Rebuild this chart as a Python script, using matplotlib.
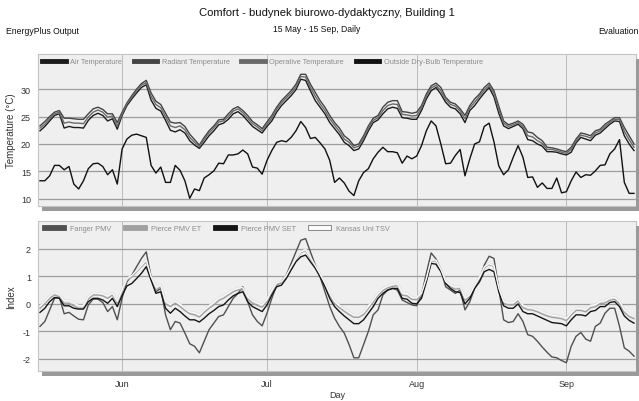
import matplotlib
matplotlib.use("Agg")
import matplotlib.pyplot as plt
import matplotlib.dates as mdates
from matplotlib.lines import Line2D
from matplotlib.patches import Patch, Rectangle
import pandas as pd

plt.rcParams["font.family"] = ["Liberation Sans Narrow", "Liberation Sans", "DejaVu Sans"]

# daily values, 15 May - 15 Sep
days = pd.date_range("2023-05-15", "2023-09-15", freq="D")

air_t = [22.4, 23.2, 24.2, 25.2, 25.5, 22.9, 23.2, 23.0, 23.0, 22.9,
         24.3, 25.2, 25.6, 25.2, 24.2, 24.6, 22.7, 25.2, 27.0, 28.2,
         29.3, 30.3, 30.8, 28.0, 26.5, 26.0, 24.3, 22.5, 22.2, 22.6,
         22.0, 20.6, 19.8, 19.2, 20.3, 21.5, 22.4, 23.5, 23.8, 24.5,
         25.5, 25.9, 25.2, 24.2, 23.2, 22.6, 22.0, 23.2, 24.2, 25.8,
         27.0, 27.9, 28.8, 29.9, 31.8, 31.6, 29.7, 27.9, 26.7, 25.5,
         23.9, 22.8, 21.7, 20.3, 19.7, 18.8, 19.1, 20.6, 22.4, 23.9,
         24.4, 25.5, 26.4, 26.7, 26.5, 24.8, 24.7, 24.5, 24.5, 26.1,
         28.2, 29.7, 30.3, 29.1, 27.6, 26.7, 26.4, 25.5, 23.9, 26.1,
         27.0, 28.2, 29.3, 30.3, 28.6, 25.6, 23.3, 22.8, 23.2, 23.6,
         22.8, 20.8, 20.6, 20.0, 19.6, 18.6, 18.6, 18.5, 18.2, 18.0,
         18.5, 20.2, 21.2, 20.9, 20.6, 21.6, 22.0, 22.8, 23.6, 24.2,
         24.1, 21.5, 20.0, 18.8]
radiant_t = [23.3, 24.1, 25.0, 25.8, 26.1, 24.7, 24.7, 24.6, 24.5, 24.5,
             25.5, 26.4, 26.7, 26.3, 25.5, 25.5, 23.9, 25.8, 27.5, 28.8,
             30.0, 31.0, 31.6, 29.3, 27.8, 27.2, 25.6, 24.0, 23.8, 23.9,
             23.2, 21.8, 20.8, 19.8, 21.2, 22.4, 23.3, 24.4, 24.5, 25.5,
             26.4, 26.8, 26.1, 25.2, 24.1, 23.5, 22.8, 24.0, 25.2, 26.7,
             27.9, 28.8, 29.7, 30.9, 32.7, 32.7, 30.9, 29.4, 27.9, 26.7,
             25.2, 23.9, 22.9, 21.5, 20.8, 19.7, 20.0, 21.5, 23.3, 24.7,
             25.2, 26.7, 27.6, 27.9, 27.9, 25.9, 25.8, 25.6, 25.8, 27.0,
             29.1, 30.6, 31.1, 30.3, 28.5, 27.6, 27.3, 26.4, 25.2, 27.0,
             28.2, 29.1, 30.3, 31.1, 29.7, 26.9, 24.2, 23.5, 23.8, 24.2,
             23.6, 22.2, 22.0, 21.2, 20.6, 19.4, 19.3, 19.1, 18.8, 18.6,
             19.4, 20.9, 22.0, 21.8, 21.5, 22.4, 22.7, 23.6, 24.2, 24.8,
             24.8, 23.0, 21.5, 20.0]
operative_t = [22.9, 23.6, 24.6, 25.5, 25.8, 23.8, 24.0, 23.8, 23.8, 23.7,
               24.9, 25.8, 26.2, 25.8, 24.9, 25.1, 23.3, 25.5, 27.3, 28.5,
               29.7, 30.7, 31.2, 28.7, 27.2, 26.6, 25.0, 23.3, 23.0, 23.3,
               22.6, 21.2, 20.3, 19.5, 20.8, 22.0, 22.9, 24.0, 24.2, 25.0,
               26.0, 26.4, 25.7, 24.7, 23.7, 23.1, 22.4, 23.6, 24.7, 26.3,
               27.5, 28.4, 29.3, 30.4, 32.3, 32.2, 30.3, 28.7, 27.3, 26.1,
               24.6, 23.4, 22.3, 20.9, 20.3, 19.3, 19.6, 21.1, 22.9, 24.3,
               24.8, 26.1, 27.0, 27.3, 27.2, 25.4, 25.3, 25.1, 25.2, 26.6,
               28.7, 30.2, 30.7, 29.7, 28.1, 27.2, 26.9, 26.0, 24.6, 26.6,
               27.6, 28.7, 29.8, 30.7, 29.2, 26.3, 23.8, 23.2, 23.5, 23.9,
               23.2, 21.5, 21.3, 20.6, 20.1, 19.0, 19.0, 18.8, 18.5, 18.3,
               19.0, 20.6, 21.6, 21.4, 21.1, 22.0, 22.4, 23.2, 23.9, 24.5,
               24.5, 22.3, 20.8, 19.4]
outside_t = [13.3, 13.3, 14.2, 16.1, 16.1, 15.3, 15.9, 12.7, 11.8, 13.3,
             15.5, 16.4, 16.5, 15.9, 14.4, 15.3, 12.7, 19.1, 20.9, 21.6,
             21.8, 21.5, 21.2, 16.1, 14.7, 15.8, 13.0, 13.0, 16.1, 15.2,
             13.3, 10.1, 11.8, 11.5, 13.8, 14.4, 15.1, 16.5, 16.4, 18.0,
             18.0, 18.2, 18.9, 18.2, 15.8, 15.6, 14.5, 17.0, 18.8, 20.3,
             20.6, 20.4, 21.2, 22.4, 24.1, 23.0, 21.0, 21.2, 20.2, 19.1,
             17.0, 13.0, 13.8, 12.9, 11.4, 10.6, 13.3, 14.8, 15.5, 17.3,
             18.5, 19.4, 18.6, 18.6, 18.4, 16.5, 17.8, 17.3, 17.8, 19.7,
             22.4, 24.2, 23.3, 20.0, 16.4, 16.5, 17.9, 19.0, 14.2, 17.3,
             20.0, 20.4, 23.2, 23.8, 20.4, 16.0, 14.4, 15.3, 17.6, 19.7,
             17.6, 13.9, 14.0, 12.1, 12.9, 11.9, 11.9, 13.8, 11.1, 11.3,
             13.3, 14.9, 13.9, 14.4, 14.3, 15.1, 16.1, 16.2, 18.2, 19.1,
             20.8, 13.0, 11.0, 11.0]

fanger_pmv = [-0.83, -0.65, -0.23, 0.19, 0.25, -0.37, -0.32, -0.45, -0.57, -0.59,
              -0.05, 0.16, 0.16, 0.04, -0.29, -0.11, -0.59, 0.2, 0.79, 1.03,
              1.34, 1.64, 1.88, 0.97, 0.43, 0.55, -0.41, -0.95, -0.65, -0.71,
              -1.07, -1.46, -1.55, -1.79, -1.37, -0.95, -0.71, -0.47, -0.41, -0.11,
              0.19, 0.37, 0.61, 0.07, -0.41, -0.65, -0.81, -0.35, 0.19, 0.67,
              0.79, 1.03, 1.46, 1.88, 2.3, 2.36, 1.88, 1.4, 0.97, 0.43,
              -0.11, -0.53, -0.83, -1.07, -1.49, -1.97, -1.97, -1.49, -1.01, -0.41,
              -0.23, 0.31, 0.49, 0.55, 0.49, 0.13, 0.04, -0.05, -0.08, 0.31,
              1.1, 1.84, 1.62, 1.22, 0.61, 0.49, 0.37, 0.49, -0.23, 0.07,
              0.55, 0.85, 1.4, 1.72, 1.64, 0.55, -0.59, -0.69, -0.65, -0.37,
              -0.65, -1.13, -1.19, -1.37, -1.58, -1.77, -1.94, -1.97, -2.07, -2.15,
              -1.55, -1.19, -1.05, -1.29, -1.37, -0.83, -0.71, -0.35, -0.17, -0.17,
              -0.83, -1.61, -1.73, -1.91]
pierce_et = [-0.17, 0.0, 0.19, 0.31, 0.25, 0.01, 0.01, -0.08, -0.17, -0.17,
             0.16, 0.31, 0.31, 0.28, 0.19, 0.31, 0.01, 0.43, 0.85, 0.97,
             1.16, 1.34, 1.52, 0.91, 0.49, 0.61, -0.01, -0.11, 0.01, -0.11,
             -0.25, -0.37, -0.41, -0.49, -0.32, -0.17, -0.05, 0.11, 0.19, 0.31,
             0.43, 0.5, 0.5, 0.17, 0.02, -0.07, -0.13, 0.07, 0.4, 0.7,
             0.75, 0.97, 1.3, 1.6, 1.85, 1.93, 1.65, 1.35, 1.03, 0.68,
             0.3, 0.0, -0.15, -0.28, -0.4, -0.5, -0.5, -0.4, -0.18, 0.05,
             0.3, 0.47, 0.57, 0.62, 0.65, 0.3, 0.28, 0.15, 0.14, 0.3,
             0.85, 1.55, 1.55, 1.2, 0.75, 0.6, 0.52, 0.55, 0.12, 0.25,
             0.6, 0.9, 1.3, 1.42, 1.35, 0.5, 0.0, -0.05, -0.05, 0.1,
             -0.15, -0.22, -0.24, -0.3, -0.38, -0.45, -0.5, -0.52, -0.55, -0.62,
             -0.42, -0.25, -0.25, -0.3, -0.15, -0.12, 0.0, 0.02, 0.12, 0.15,
             0.0, -0.32, -0.47, -0.55]
pierce_set = [-0.32, -0.17, 0.07, 0.22, 0.19, -0.08, -0.08, -0.17, -0.2, -0.2,
              0.07, 0.19, 0.19, 0.13, 0.01, 0.19, -0.11, 0.3, 0.64, 0.73,
              0.91, 1.1, 1.34, 0.85, 0.37, 0.43, -0.17, -0.35, -0.17, -0.29,
              -0.45, -0.59, -0.59, -0.67, -0.53, -0.37, -0.25, -0.11, -0.05, 0.13,
              0.28, 0.37, 0.43, 0.07, -0.11, -0.2, -0.29, -0.05, 0.31, 0.61,
              0.67, 0.91, 1.22, 1.52, 1.7, 1.76, 1.52, 1.28, 0.97, 0.61,
              0.19, -0.11, -0.29, -0.45, -0.59, -0.73, -0.73, -0.59, -0.35, -0.11,
              0.19, 0.37, 0.49, 0.55, 0.55, 0.19, 0.16, 0.01, -0.01, 0.19,
              0.79, 1.46, 1.43, 1.16, 0.73, 0.55, 0.43, 0.4, -0.01, 0.19,
              0.55, 0.79, 1.16, 1.24, 1.16, 0.43, -0.08, -0.17, -0.17, -0.01,
              -0.29, -0.37, -0.37, -0.45, -0.53, -0.61, -0.69, -0.71, -0.73, -0.81,
              -0.59, -0.41, -0.41, -0.45, -0.29, -0.25, -0.11, -0.11, 0.04, 0.07,
              -0.11, -0.45, -0.61, -0.71]
kansas_tsv = [-0.1, 0.07, 0.27, 0.42, 0.33, 0.1, 0.12, 0.02, -0.08, -0.08,
              0.25, 0.38, 0.38, 0.35, 0.27, 0.38, 0.08, 0.5, 0.9, 1.02,
              1.2, 1.38, 1.58, 0.98, 0.6, 0.67, 0.07, -0.03, 0.1, -0.03,
              -0.17, -0.3, -0.33, -0.41, -0.24, -0.09, 0.04, 0.2, 0.28, 0.38,
              0.5, 0.56, 0.58, 0.25, 0.1, 0.02, -0.05, 0.15, 0.47, 0.75,
              0.8, 1.02, 1.34, 1.63, 1.88, 1.96, 1.68, 1.38, 1.07, 0.74,
              0.37, 0.08, -0.07, -0.2, -0.32, -0.42, -0.42, -0.32, -0.1, 0.13,
              0.37, 0.54, 0.64, 0.7, 0.72, 0.38, 0.36, 0.23, 0.22, 0.37,
              0.9, 1.58, 1.58, 1.25, 0.8, 0.67, 0.6, 0.62, 0.2, 0.32,
              0.66, 0.95, 1.33, 1.45, 1.38, 0.57, 0.08, 0.03, 0.03, 0.18,
              -0.07, -0.14, -0.16, -0.22, -0.3, -0.37, -0.42, -0.44, -0.47, -0.54,
              -0.34, -0.17, -0.17, -0.22, -0.07, -0.04, 0.08, 0.1, 0.2, 0.23,
              0.08, -0.24, -0.39, -0.47]

TEMP_SERIES = [("Air Temperature", air_t, "#1c1c1c"),
               ("Radiant Temperature", radiant_t, "#444444"),
               ("Operative Temperature", operative_t, "#6a6a6a"),
               ("Outside Dry-Bulb Temperature", outside_t, "#111111")]
IDX_SERIES = [("Fanger PMV", fanger_pmv, "#505050"),
              ("Pierce PMV ET", pierce_et, "#a0a0a0"),
              ("Pierce PMV SET", pierce_set, "#151515"),
              ("Kansas Uni TSV", kansas_tsv, "#fafafa")]

BG = "#efefef"
GRID = "#9c9c9c"
TXT = "#333333"

fig = plt.figure(figsize=(6.39, 4.02), dpi=100)
ax1 = fig.add_axes([38 / 639, 1 - 207 / 402, 598 / 639, 152 / 402])
ax2 = fig.add_axes([38 / 639, 1 - 372 / 402, 598 / 639, 150 / 402])

# drop shadows under / right of the panels
for top, bot in [(55, 207), (222, 372)]:
    fig.add_artist(Rectangle((42 / 639, 1 - (bot + 4.5) / 402), 597 / 639, 4 / 402,
                             transform=fig.transFigure, color="#9a9a9a", lw=0))
    fig.add_artist(Rectangle((636 / 639, 1 - (bot + 4.5) / 402), 3 / 639, (bot - top) / 402,
                             transform=fig.transFigure, color="#9a9a9a", lw=0))

x0 = days[0] - pd.Timedelta(hours=10)
x1 = days[-1] + pd.Timedelta(hours=10)

for name, vals, c in TEMP_SERIES:
    ax1.plot(days, vals, color=c, lw=1.0, zorder=3)
for name, vals, c in IDX_SERIES:
    if name == "Kansas Uni TSV":
        ax2.plot(days, vals, color="#d4d4d4", lw=1.6, zorder=2)
    ax2.plot(days, vals, color=c, lw=1.0, zorder=3)

for ax, yl, lim, ticks in [(ax1, "Temperature (°C)", (8.7, 36.4), [10, 15, 20, 25, 30]),
                           (ax2, "Index", (-2.45, 3.0), [-2, -1, 0, 1, 2])]:
    ax.set_facecolor(BG)
    ax.set_xlim(x0, x1)
    ax.set_ylim(*lim)
    ax.set_yticks(ticks)
    ax.set_yticklabels([str(t) for t in ticks])
    ax.xaxis.set_major_locator(mdates.MonthLocator())
    ax.xaxis.set_major_formatter(mdates.DateFormatter("%b"))
    ax.grid(axis="y", color=GRID, lw=0.9, zorder=1)
    ax.grid(axis="x", color="#b4b4b4", lw=0.6, zorder=1)
    ax.set_axisbelow(True)
    ax.tick_params(length=0, labelsize=6.5, colors=TXT, pad=5)
    for s in ax.spines.values():
        s.set_color("#c4c4c4")
        s.set_linewidth(0.8)
    ax.set_ylabel(yl, fontsize=7, color=TXT)
    ax.yaxis.set_label_coords(-0.036, 0.5)

ax1.tick_params(axis="x", labelbottom=False)
ax2.tick_params(axis="x", pad=6)
ax2.set_xlabel("Day", fontsize=6.5, color=TXT, labelpad=1)

h1 = [Line2D([], [], color=c, lw=3.5) for _, _, c in TEMP_SERIES]
ax1.legend(h1, [n for n, _, _ in TEMP_SERIES], loc="upper left", ncol=4, frameon=False,
           fontsize=5.3, labelcolor="#8c8c8c", handlelength=3.2, handletextpad=0.6,
           columnspacing=1.6, borderaxespad=0.15, bbox_to_anchor=(0.0, 1.0))
h2 = [Patch(facecolor=c, edgecolor="#777777" if n == "Kansas Uni TSV" else c, lw=0.6)
      for n, _, c in IDX_SERIES]
ax2.legend(h2, [n for n, _, _ in IDX_SERIES], loc="upper left", ncol=4, frameon=False,
           fontsize=5.3, labelcolor="#8c8c8c", handlelength=3.2, handleheight=0.5,
           handletextpad=0.6, columnspacing=1.6, borderaxespad=0.15,
           bbox_to_anchor=(0.0, 1.0))

fig.text(0.512, 1 - 13 / 402, "Comfort - budynek biurowo-dydaktyczny, Building 1",
         ha="center", va="center", fontsize=8.1, color="#111111")
fig.text(0.495, 1 - 30 / 402, "15 May - 15 Sep, Daily", ha="center", va="center",
         fontsize=6.2, color="#111111")
fig.text(6 / 639, 1 - 31 / 402, "EnergyPlus Output", ha="left", va="center",
         fontsize=6.2, color="#111111")
fig.text(639 / 639, 1 - 31 / 402, "Evaluation", ha="right", va="center",
         fontsize=6.2, color="#111111")

fig.savefig("out.png", dpi=100)
